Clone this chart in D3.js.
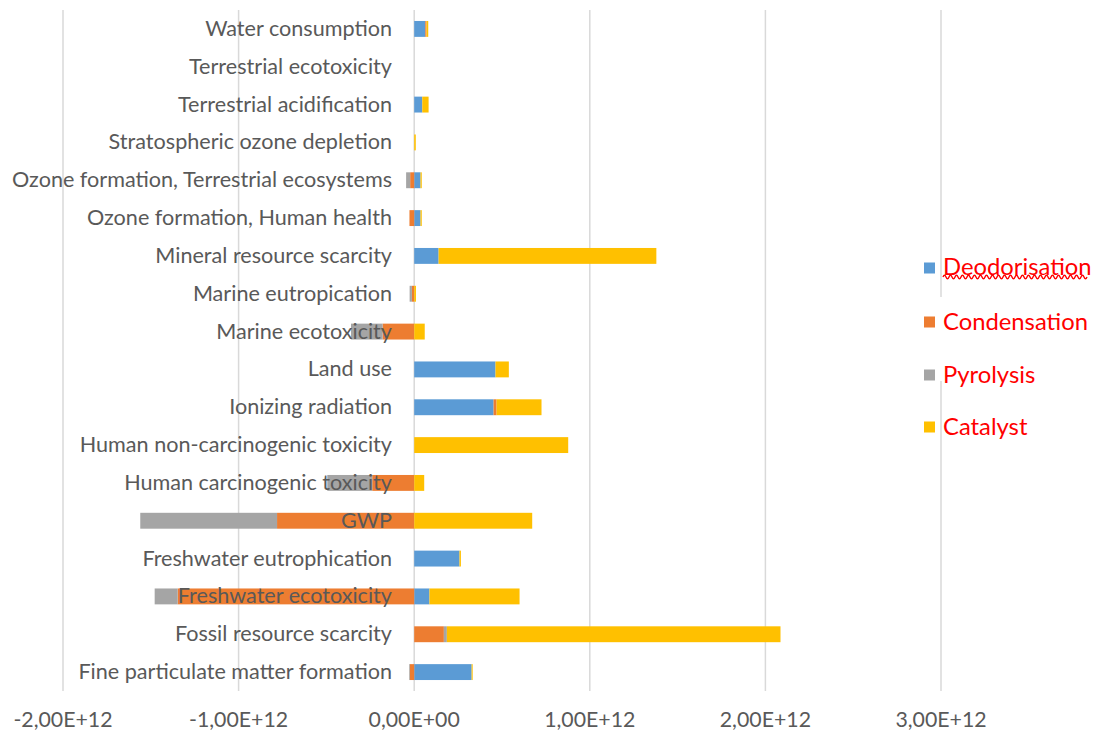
<!DOCTYPE html>
<html>
<head>
<meta charset="utf-8">
<script src="https://cdn.jsdelivr.net/npm/d3@7"></script>
<style>
  html, body { margin: 0; padding: 0; background: #fff; }
  svg { display: block; }
</style>
</head>
<body>
<svg id="chart" width="1099" height="733"></svg>
<script>
// Impact categories, listed top to bottom
const categories = [
  "Water consumption",
  "Terrestrial ecotoxicity",
  "Terrestrial acidification",
  "Stratospheric ozone depletion",
  "Ozone formation, Terrestrial ecosystems",
  "Ozone formation, Human health",
  "Mineral resource scarcity",
  "Marine eutropication",
  "Marine ecotoxicity",
  "Land use",
  "Ionizing radiation",
  "Human non-carcinogenic toxicity",
  "Human carcinogenic toxicity",
  "GWP",
  "Freshwater eutrophication",
  "Freshwater ecotoxicity",
  "Fossil resource scarcity",
  "Fine particulate matter formation"
];

const seriesNames = ["Deodorisation", "Condensation", "Pyrolysis", "Catalyst"];

// Values per process step (same order as categories)
const deodorisation = [0.063e12, 0, 0.046e12, 0, 0.036e12, 0.036e12, 0.139e12, 0, 0, 0.463e12, 0.452e12, 0, 0, 0, 0.258e12, 0.087e12, 0, 0.327e12];
const condensation  = [0.007e12, 0, 0, 0, -0.023e12, -0.027e12, 0, -0.013e12, -0.18e12, 0, 0.017e12, 0, -0.239e12, -0.781e12, 0, -1.347e12, 0.169e12, -0.025e12];
const pyrolysis     = [0, 0, 0, 0, -0.023e12, 0, 0, -0.013e12, -0.18e12, 0, 0, 0, -0.256e12, -0.779e12, 0, -0.131e12, 0.017e12, -0.004e12];
const catalyst      = [0.010e12, 0, 0.036e12, 0.009e12, 0.007e12, 0.007e12, 1.24e12, 0.010e12, 0.06e12, 0.076e12, 0.256e12, 0.877e12, 0.057e12, 0.672e12, 0.008e12, 0.513e12, 1.90e12, 0.006e12];

const tickValues = [-2e12, -1e12, 0, 1e12, 2e12, 3e12];
const tickLabels = ["-2,00E+12", "-1,00E+12", "0,00E+00", "1,00E+12", "2,00E+12", "3,00E+12"];

const colors = ["#5B9BD5", "#ED7D31", "#A5A5A5", "#FFC000"];

// Rows for the stack layout
const rows = categories.map((c, i) => ({
  category: c,
  Deodorisation: deodorisation[i],
  Condensation: condensation[i],
  Pyrolysis: pyrolysis[i],
  Catalyst: catalyst[i]
}));

const svg = d3.select("#chart");
const font = "Lato, 'Noto Sans', sans-serif";
const textGray = "#595959";

const x = d3.scaleLinear().domain([-2e12, 3e12]).range([63, 941]);
const y = d3.scaleBand().domain(categories).range([10, 691])
  .paddingInner(0.58).paddingOuter(0.29);

// Vertical gridlines
svg.append("g")
  .selectAll("line")
  .data(tickValues)
  .join("line")
  .attr("x1", d => x(d)).attr("x2", d => x(d))
  .attr("y1", 10).attr("y2", 691)
  .attr("stroke", "#d9d9d9")
  .attr("stroke-width", 1.5);

// Stacked bars, positives to the right, negatives to the left
const stack = d3.stack().keys(seriesNames).offset(d3.stackOffsetDiverging);
const layers = stack(rows);

svg.append("g")
  .selectAll("g")
  .data(layers)
  .join("g")
  .attr("fill", (d, i) => colors[i])
  .selectAll("rect")
  .data(d => d)
  .join("rect")
  .attr("x", d => x(Math.min(d[0], d[1])))
  .attr("width", d => Math.abs(x(d[1]) - x(d[0])))
  .attr("y", d => y(d.data.category))
  .attr("height", y.bandwidth());

// Category labels
svg.append("g")
  .selectAll("text")
  .data(categories)
  .join("text")
  .attr("x", 392)
  .attr("y", d => y(d) + y.bandwidth() / 2 - 1)
  .attr("text-anchor", "end")
  .attr("dominant-baseline", "central")
  .attr("font-family", font)
  .attr("font-size", 21.6)
  .attr("fill", textGray)
  .text(d => d);

// Value axis tick labels
svg.append("g")
  .selectAll("text")
  .data(tickValues)
  .join("text")
  .attr("x", d => x(d))
  .attr("y", 719)
  .attr("text-anchor", "middle")
  .attr("dominant-baseline", "central")
  .attr("font-family", font)
  .attr("font-size", 21.3)
  .attr("fill", textGray)
  .text((d, i) => tickLabels[i]);

// Legend
const legend = svg.append("g");
legend.append("rect")
  .attr("x", 936).attr("y", 297).attr("width", 12).attr("height", 84)
  .attr("fill", "#fff");
const legendY = [268, 322, 375, 427];
const items = legend.selectAll("g.item")
  .data(seriesNames)
  .join("g")
  .attr("class", "item")
  .attr("transform", (d, i) => `translate(0,${legendY[i]})`);
items.append("rect")
  .attr("x", 924).attr("y", -5.5).attr("width", 11).attr("height", 11)
  .attr("fill", (d, i) => colors[i]);
items.append("text")
  .attr("x", 943).attr("y", (d, i) => i === 0 ? -2 : -1)
  .attr("dominant-baseline", "central")
  .attr("font-family", font)
  .attr("font-size", 23.8)
  .attr("fill", "#FF0000")
  .text(d => d);

// Red wavy underline beneath the first legend entry
const firstText = items.filter((d, i) => i === 0).select("text").node();
const w = firstText.getComputedTextLength();
let p = `M943,${legendY[0] + 9}`;
for (let xx = 943; xx + 6 <= 943 + w; xx += 6) {
  p += ` q1.5,-3.5 3,0 q1.5,3.5 3,0`;
}
legend.append("path")
  .attr("d", p)
  .attr("fill", "none")
  .attr("stroke", "#FF0000")
  .attr("stroke-width", 1.4);
</script>
</body>
</html>
